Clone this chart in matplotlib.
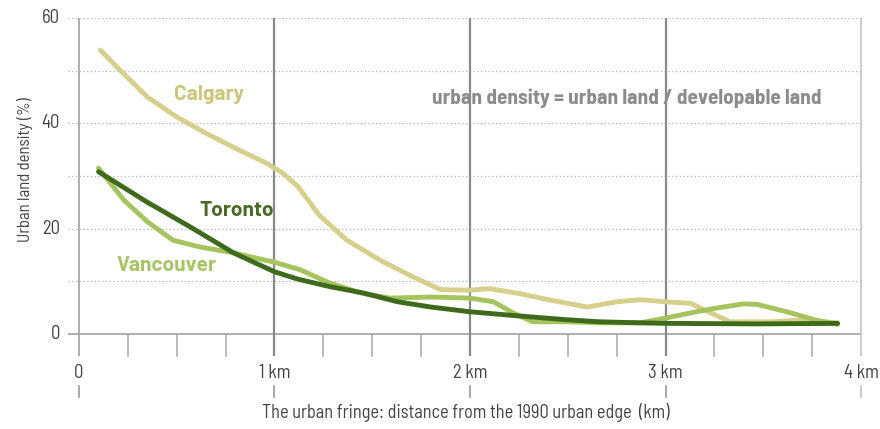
import matplotlib
matplotlib.use("Agg")
import matplotlib.pyplot as plt
import numpy as np

plt.rcParams['font.family'] = ['Barlow Semi Condensed', 'DejaVu Sans']

# distance from the 1990 urban edge (km) and urban land density (%)
calgary_x = [0.11, 0.21, 0.35, 0.50, 0.65, 0.82, 0.95, 1.04, 1.12, 1.23, 1.37, 1.54, 1.71, 1.85,
             2.00, 2.10, 2.26, 2.40, 2.60, 2.75, 2.87, 3.00, 3.13, 3.23, 3.33, 3.55, 3.67, 3.81, 3.88]
calgary_y = [53.9, 50.1, 45.0, 41.2, 38.1, 34.9, 32.6, 30.6, 28.0, 22.5, 17.8, 14.0, 10.8, 8.4,
             8.3, 8.6, 7.6, 6.5, 5.1, 6.1, 6.5, 6.1, 5.8, 4.0, 2.3, 2.3, 2.6, 2.3, 2.1]

toronto_x = [0.10, 0.35, 0.57, 0.79, 1.00, 1.12, 1.28, 1.45, 1.63, 1.80, 2.00, 2.22,
             2.49, 2.66, 2.87, 3.00, 3.47, 3.88]
toronto_y = [30.8, 25.0, 20.3, 15.4, 11.8, 10.4, 9.0, 7.8, 6.1, 5.1, 4.2, 3.5,
             2.7, 2.3, 2.1, 2.0, 1.9, 2.0]

vancouver_x = [0.10, 0.23, 0.35, 0.48, 0.62, 0.79, 1.00, 1.13, 1.28, 1.44, 1.59, 1.80,
               2.00, 2.12, 2.22, 2.32, 2.49, 2.66, 2.87, 3.00, 3.13, 3.26, 3.40, 3.47,
               3.64, 3.76, 3.88]
vancouver_y = [31.5, 25.4, 21.3, 17.8, 16.5, 15.4, 13.6, 12.2, 9.7, 7.8, 6.8, 7.0,
               6.8, 6.1, 4.0, 2.3, 2.3, 2.1, 2.1, 3.0, 4.0, 4.9, 5.7, 5.6,
               4.0, 2.7, 1.8]

y_ticks = [0, 20, 40, 60]
x_ticks = [0, 1, 2, 3, 4]
x_labels = ['0', '1 km', '2 km', '3 km', '4 km']

fig = plt.figure(figsize=(8.8, 4.29), dpi=100)
ax = fig.add_axes([68 / 880, 1 - 356 / 429, 794 / 880, 338 / 429])
ax.set_xlim(-0.056, 4.005)
ax.set_ylim(-4.2, 60)
ax.axis('off')

grid_c = '#b5b5b5'
for g in range(10, 61, 10):
    ax.plot([-0.056, 4.0], [g, g], color=grid_c, lw=0.9, ls=(0, (1, 2)), zorder=1)
ax.plot([-0.056, 4.0], [0, 0], color='#a8a8a8', lw=1.3, zorder=1)

# vertical km lines
ax.plot([0, 0], [-4.2, 60], color='#a0a0a0', lw=1.2, zorder=1)
for k in [1, 2, 3]:
    ax.plot([k, k], [-4.2, 60], color='#8a8a8a', lw=1.6, zorder=1)
ax.plot([4, 4], [-4.2, 60], color='#c4c4c4', lw=1.2, zorder=1)

# minor ticks below the zero line
for m in np.arange(0.25, 4, 0.25):
    if m % 1 != 0:
        ax.plot([m, m], [0, -4.2], color='#a8a8a8', lw=1.1, zorder=1, clip_on=False)

# short ticks under the km labels
for k in x_ticks:
    col = '#c4c4c4' if k == 4 else '#9a9a9a'
    ax.plot([k, k], [-9.9, -11.9], color=col, lw=1.2, clip_on=False)

for k, lab in zip(x_ticks, x_labels):
    ax.text(k, -7.4, lab, ha='center', va='center', fontsize=13.5, color='#444444')
for v in y_ticks:
    ax.text(-0.097, v, str(v), ha='right', va='center', fontsize=13.5, color='#444444')

ax.text(1.98, -14.9, 'The urban fringe: distance from the 1990 urban edge  (km)',
        ha='center', va='center', fontsize=13.2, color='#444444')
fig.text(25 / 880, 1 - 170 / 429, 'Urban land density (%)', rotation=90,
         ha='center', va='center', fontsize=12, color='#444444')

ax.plot(calgary_x, calgary_y, color='#d6d08c', lw=3.5, solid_capstyle='round',
        solid_joinstyle='round', zorder=3, clip_on=False)
ax.plot(vancouver_x, vancouver_y, color='#a6c45e', lw=3.5, solid_capstyle='round',
        solid_joinstyle='round', zorder=4, clip_on=False)
ax.plot(toronto_x, toronto_y, color='#3d6a1b', lw=3.5, solid_capstyle='round',
        solid_joinstyle='round', zorder=5, clip_on=False)

lab_font = ['Barlow', 'DejaVu Sans']
ax.text(0.665, 45.5, 'Calgary', color='#cdc67a', fontsize=15, fontweight='bold',
        ha='center', va='center', family=lab_font)
ax.text(0.805, 23.5, 'Toronto', color='#4a6a25', fontsize=15, fontweight='bold',
        ha='center', va='center', family=lab_font)
ax.text(0.45, 12.9, 'Vancouver', color='#a8c565', fontsize=15, fontweight='bold',
        ha='center', va='center', family=lab_font)
ax.text(2.80, 44.8, 'urban density = urban land / developable land', color='#8c8c8c',
        fontsize=15.3, fontweight='bold', ha='center', va='center')

fig.savefig('out.png', dpi=100)
